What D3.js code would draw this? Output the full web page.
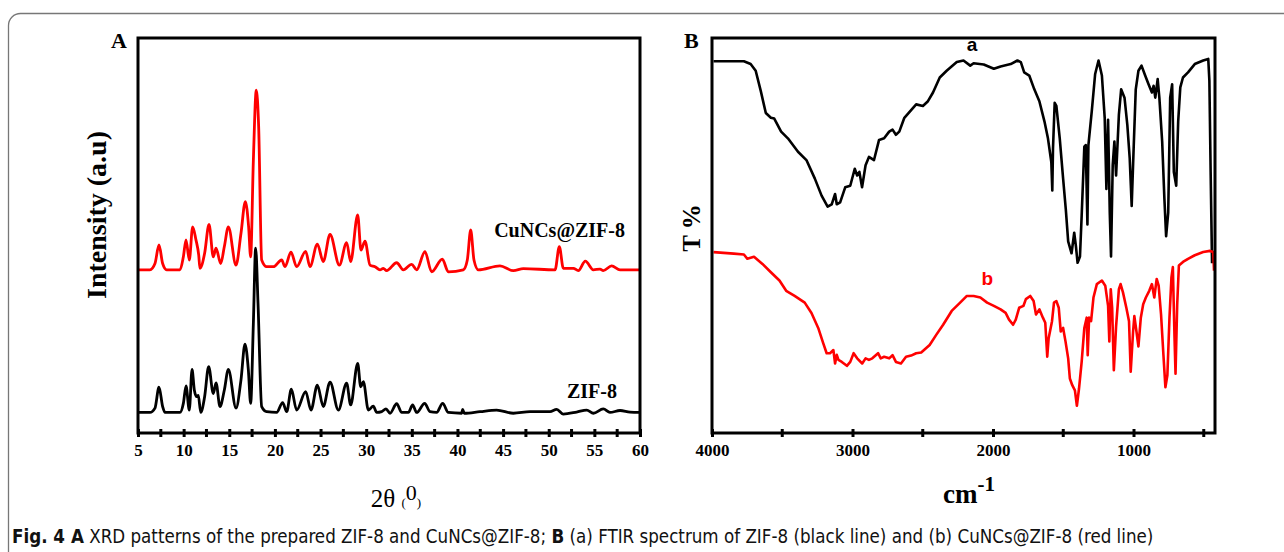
<!DOCTYPE html>
<meta charset="utf-8">
<style>
html, body { margin: 0; background: #fff; }
svg { display: block; }
.frame { fill: none; stroke: #777; stroke-width: 1.3px; }
.box { fill: none; stroke: #000; stroke-width: 3px; }
.axis line { stroke: #000; stroke-width: 3px; }
.serif { font-family: "Liberation Serif", "Times New Roman", serif; fill: #000; }
.sans { font-family: "Liberation Sans", Arial, sans-serif; }
.caption { font-family: "Liberation Sans Narrow", "DejaVu Sans Condensed", sans-serif; font-size: 18.6px; fill: #111; }
</style>
<body>
<svg id="chart" width="1284" height="552"></svg>
</body>
<script src="https://cdn.jsdelivr.net/npm/d3@7/dist/d3.min.js"></script>
<script>

/* panel A: XRD, stacked intensity as drawn (a.u.) */
var xrdTicks = [5, 10, 15, 20, 25, 30, 35, 40, 45, 50, 55, 60]
var xrdMinor = [7.5, 12.5, 17.5, 22.5, 27.5, 32.5, 37.5, 42.5, 47.5, 52.5, 57.5]

var zif8Theta = [5.04, 6.31, 6.86, 7.30, 7.70, 7.96, 9.60, 9.97, 10.26, 10.62, 10.92, 11.17, 11.43, 11.61, 11.87,
  12.30, 12.74, 13.25, 13.55, 13.98, 14.46, 14.90, 15.74, 16.28, 16.72, 17.09, 17.34, 17.64, 17.89, 18.15,
  18.55, 19.10, 20.19, 20.85, 21.29, 21.80, 22.38, 23.37, 23.95, 24.65, 25.30, 26.04, 26.95, 27.86, 28.30,
  29.07, 29.40, 29.69, 30.24, 30.78, 31.15, 31.70, 32.17, 32.61, 33.34, 33.89, 34.62, 35.09, 35.53, 36.41,
  36.99, 37.72, 38.38, 39.00, 40.46, 40.57, 40.75, 42.47, 44.29, 46.12, 47.95, 50.14, 50.87, 51.60, 53.06,
  54.16, 54.89, 55.98, 56.71, 57.81, 58.90, 60.0]
var zif8Int = [5.2, 5.2, 6.3, 11.6, 6.7, 5.2, 5.2, 7.5, 11.9, 5.8, 16.1, 10.9, 9.2, 9.5, 5.2,
  9.2, 16.8, 10.0, 12.7, 6.7, 10.9, 16.1, 6.3, 13.4, 22.5, 16.0, 7.5, 27.8, 46.8, 32.8,
  6.7, 5.4, 5.2, 7.7, 5.4, 11.1, 5.8, 10.5, 5.8, 12.1, 6.7, 12.9, 5.8, 12.6, 7.1,
  17.6, 11.7, 13.0, 5.8, 6.8, 5.2, 5.4, 6.1, 5.0, 7.4, 5.2, 5.2, 7.1, 5.2, 7.5,
  5.4, 5.2, 7.5, 5.2, 5.0, 6.0, 5.0, 5.4, 5.8, 5.0, 5.4, 5.4, 6.0, 4.8, 5.3,
  5.8, 5.0, 6.1, 5.2, 5.7, 5.3, 5.2]

var cuTheta = [5.04, 6.31, 6.86, 7.30, 7.70, 8.14, 9.60, 9.97, 10.26, 10.62, 10.99, 11.35, 11.65, 11.79, 12.30,
  12.78, 13.25, 13.55, 14.06, 14.46, 14.90, 15.74, 16.28, 16.76, 17.12, 17.34, 17.64, 17.96, 18.22, 18.55,
  19.10, 19.83, 20.74, 21.11, 21.76, 22.38, 23.37, 23.84, 24.65, 25.30, 26.04, 27.06, 27.86, 28.30, 29.07,
  29.43, 29.87, 30.42, 30.97, 31.51, 31.88, 32.24, 33.34, 34.07, 34.98, 35.53, 36.44, 37.17, 38.34, 39.00,
  40.64, 41.08, 41.45, 41.81, 42.29, 44.66, 46.12, 47.22, 50.69, 51.16, 51.60, 52.70, 53.24, 54.01, 54.89,
  55.62, 55.98, 56.89, 57.81, 60.0]
var cuInt = [41.3, 41.3, 42.9, 47.6, 42.9, 41.3, 41.3, 44.6, 48.9, 43.8, 52.2, 48.9, 45.1, 41.7, 45.5,
  52.8, 44.6, 46.8, 42.9, 47.2, 52.2, 42.5, 50.5, 58.6, 52.2, 44.6, 69.1, 86.8, 77.5, 43.8,
  42.1, 42.1, 43.8, 42.1, 45.8, 42.1, 46.0, 42.1, 47.8, 43.4, 50.3, 42.5, 48.2, 43.4, 55.2,
  46.3, 48.6, 42.5, 42.1, 41.3, 41.7, 41.1, 43.1, 41.3, 42.7, 41.3, 45.9, 40.8, 44.0, 40.8,
  41.3, 43.8, 51.4, 43.8, 41.3, 42.3, 41.1, 41.6, 41.3, 47.2, 41.7, 41.7, 41.1, 43.5, 41.3,
  41.5, 41.1, 42.3, 41.3, 41.3]

/* panel B: FTIR, transmittance as drawn (%) */
var ftirTicks = [4000, 3000, 2000, 1000]
var ftirMinor = [3500, 2500, 1500, 500]

var zifWn = [3989, 3773, 3725, 3689, 3653, 3617, 3581, 3557, 3508, 3460, 3388, 3328, 3268, 3220, 3177,
  3148, 3124, 3112, 3088, 3052, 3016, 2984, 2967, 2951, 2932, 2907, 2883, 2847, 2811, 2775,
  2739, 2715, 2691, 2667, 2631, 2547, 2499, 2463, 2427, 2379, 2330, 2258, 2210, 2162, 2138,
  2066, 1994, 1946, 1874, 1826, 1802, 1778, 1742, 1706, 1670, 1634, 1609, 1585, 1578, 1573,
  1561, 1549, 1525, 1501, 1482, 1465, 1441, 1422, 1410, 1398, 1381, 1369, 1350, 1340, 1328,
  1321, 1297, 1273, 1249, 1225, 1205, 1193, 1181, 1169, 1160, 1148, 1136, 1124, 1104, 1088,
  1064, 1044, 1027, 1013, 999, 984, 965, 943, 917, 893, 869, 857, 845, 828, 816,
  796, 780, 768, 753, 739, 725, 713, 696, 682, 667, 648, 612, 564, 504, 468,
  460, 451, 441]
var zifT = [94.1, 94.1, 93.4, 91.7, 86.6, 81.0, 79.8, 79.6, 76.3, 74.6, 71.2, 69.1, 64.4, 60.1, 57.3,
  57.9, 60.5, 57.9, 58.4, 62.2, 62.6, 66.9, 65.2, 66.1, 62.2, 67.8, 69.9, 69.1, 74.2, 74.6,
  76.3, 76.8, 75.5, 76.3, 79.8, 83.2, 82.8, 84.0, 86.2, 90.0, 91.7, 93.9, 94.3, 93.0, 93.6,
  93.3, 92.2, 92.8, 93.4, 94.3, 93.9, 91.3, 90.5, 87.0, 84.0, 78.9, 74.6, 68.6, 61.4, 72.1,
  83.6, 82.8, 74.6, 64.4, 56.7, 48.5, 45.5, 50.7, 47.3, 43.1, 44.7, 55.0, 72.5, 72.9, 52.8,
  72.9, 81.5, 90.9, 94.3, 90.5, 79.8, 61.8, 79.3, 55.8, 44.7, 67.8, 73.8, 65.2, 80.6, 87.0,
  84.9, 78.0, 69.5, 57.5, 72.1, 87.0, 91.7, 93.0, 90.5, 88.3, 86.2, 87.9, 84.9, 89.6, 84.9,
  73.8, 59.2, 49.8, 55.8, 84.9, 88.3, 66.1, 62.6, 78.9, 87.5, 90.0, 91.3, 93.4, 94.3, 94.7,
  89.2, 66.1, 43.0]

var cuWn = [3989, 3845, 3773, 3749, 3701, 3641, 3581, 3520, 3472, 3412, 3340, 3292, 3244, 3208, 3184,
  3160, 3136, 3124, 3112, 3100, 3076, 3040, 3016, 2992, 2967, 2931, 2907, 2883, 2859, 2818,
  2799, 2775, 2739, 2715, 2691, 2655, 2619, 2583, 2547, 2511, 2451, 2403, 2355, 2294, 2234,
  2186, 2138, 2090, 2042, 1994, 1946, 1910, 1886, 1857, 1838, 1814, 1783, 1766, 1735, 1711,
  1694, 1670, 1645, 1628, 1614, 1604, 1580, 1566, 1549, 1532, 1518, 1501, 1484, 1465, 1453,
  1436, 1417, 1403, 1388, 1369, 1350, 1333, 1326, 1316, 1302, 1285, 1261, 1225, 1201, 1181,
  1172, 1162, 1152, 1140, 1124, 1104, 1092, 1075, 1051, 1032, 1020, 1003, 994, 979, 965,
  948, 931, 912, 888, 869, 852, 835, 821, 804, 787, 773, 759, 744, 730, 720,
  708, 701, 689, 677, 648, 612, 564, 504, 456, 432, 427]
var cuT = [45.8, 45.4, 45.2, 44.1, 44.6, 42.8, 40.7, 38.6, 36.0, 34.7, 33.0, 30.4, 26.6, 22.7, 20.2,
  20.2, 21.0, 17.6, 19.8, 18.5, 18.0, 17.0, 18.0, 20.2, 18.9, 17.6, 18.9, 18.5, 18.9, 20.2,
  18.9, 19.3, 18.9, 19.7, 18.0, 17.6, 19.3, 19.6, 20.2, 20.4, 22.3, 24.9, 27.4, 30.9, 33.0,
  34.7, 34.7, 34.3, 33.0, 32.2, 31.3, 30.4, 28.7, 27.4, 28.7, 31.7, 32.2, 33.9, 34.7, 33.4,
  30.0, 31.3, 29.2, 27.9, 19.3, 24.0, 28.3, 33.0, 33.4, 31.7, 25.7, 26.6, 23.2, 18.9, 13.8,
  12.1, 10.8, 6.9, 11.2, 18.0, 26.6, 29.2, 19.7, 29.2, 28.3, 34.3, 37.7, 38.6, 37.3, 32.2,
  23.2, 36.4, 31.7, 15.9, 27.0, 36.4, 37.7, 35.6, 31.7, 28.3, 15.5, 25.7, 29.6, 25.7, 21.9,
  29.2, 32.6, 34.3, 36.0, 37.7, 34.3, 39.0, 37.3, 30.0, 19.7, 11.6, 14.6, 29.2, 39.4, 42.0,
  24.0, 15.0, 32.6, 42.4, 43.3, 44.1, 45.0, 45.8, 46.1, 45.8, 41.1]

var svg = d3.select("#chart")

// outer figure frame, runs off the right and bottom edge
svg.append("rect").attr("class", "frame")
  .attr("x", 8.5).attr("y", 13.5).attr("width", 1320).attr("height", 600).attr("rx", 12)

var plotTop = 38, plotBottom = 433

function panel(opts) {
  var x = d3.scaleLinear().domain(opts.xDomain).range([opts.left, opts.right])
  var y = d3.scaleLinear().domain([0, 100]).range([plotBottom, plotTop])

  var g = svg.append("g")

  opts.series.forEach(function(s) {
    g.append("path")
      .datum(d3.zip(s.x, s.y))
      .attr("fill", "none")
      .attr("stroke", s.color)
      .attr("stroke-width", s.width)
      .attr("stroke-linejoin", "round")
      .attr("d", d3.line().curve(opts.curve)
        .x(function(d) { return x(d[0]) }).y(function(d) { return y(d[1]) }))
  })

  g.append("rect").attr("class", "box")
    .attr("x", opts.left).attr("y", plotTop)
    .attr("width", opts.right - opts.left).attr("height", plotBottom - plotTop)

  var ax = g.append("g").attr("class", "axis")
    .attr("transform", "translate(0," + plotBottom + ")")
    .call(d3.axisBottom(x).tickValues(opts.ticks).tickSize(4).tickPadding(7).tickFormat(d3.format("d")))
  ax.select(".domain").remove()
  ax.selectAll(".tick line").attr("y1", -4)
  ax.selectAll(".tick text")
    .attr("font-family", "'Liberation Serif', 'Times New Roman', serif")
    .attr("font-weight", "bold").attr("font-size", 17).attr("fill", "#000")

  g.append("g").attr("class", "axis")
    .attr("transform", "translate(0," + plotBottom + ")")
    .selectAll("line").data(opts.minor).enter().append("line")
      .attr("x1", x).attr("x2", x).attr("y1", -4).attr("y2", 4)

  return { x: x, y: y }
}

var A = panel({
  left: 138, right: 640, xDomain: [5, 60], curve: d3.curveMonotoneX,
  ticks: xrdTicks, minor: xrdMinor,
  series: [
    { x: zif8Theta, y: zif8Int, color: "#000", width: 2.8 },
    { x: cuTheta, y: cuInt, color: "#ff0000", width: 2.8 }
  ]
})

var B = panel({
  left: 712, right: 1215, xDomain: [4000, 420], curve: d3.curveLinear,
  ticks: ftirTicks, minor: ftirMinor,
  series: [
    { x: zifWn, y: zifT, color: "#000", width: 2.6 },
    { x: cuWn, y: cuT, color: "#ff0000", width: 2.6 }
  ]
})

// panel letters
svg.append("text").attr("class", "serif").attr("x", 111).attr("y", 48)
  .attr("font-size", 22).attr("font-weight", "bold").text("A")
svg.append("text").attr("class", "serif").attr("x", 684).attr("y", 48)
  .attr("font-size", 22).attr("font-weight", "bold").text("B")

// axis titles
svg.append("text").attr("class", "serif")
  .attr("transform", "translate(106,215) rotate(-90)")
  .attr("text-anchor", "middle").attr("font-size", 28).attr("font-weight", "bold")
  .text("Intensity (a.u)")

svg.append("text").attr("class", "serif")
  .attr("transform", "translate(700,228) rotate(-90)")
  .attr("text-anchor", "middle").attr("font-size", 25).attr("font-weight", "bold")
  .text("T %")

var t2 = svg.append("text").attr("class", "serif").attr("x", 396).attr("y", 507)
  .attr("text-anchor", "middle").attr("font-size", 25)
t2.append("tspan").text("2θ ")
t2.append("tspan").attr("font-size", 13).text("(")
t2.append("tspan").attr("font-size", 22).attr("dy", -7).text("0")
t2.append("tspan").attr("font-size", 13).attr("dy", 7).text(")")

var cm = svg.append("text").attr("class", "serif").attr("x", 969).attr("y", 503)
  .attr("text-anchor", "middle").attr("font-size", 27).attr("font-weight", "bold")
cm.append("tspan").text("cm")
cm.append("tspan").attr("font-size", 21).attr("dy", -12).text("-1")

// series labels
svg.append("text").attr("class", "serif").attr("x", 625).attr("y", 237)
  .attr("text-anchor", "end").attr("font-size", 20).attr("font-weight", "bold").text("CuNCs@ZIF-8")
svg.append("text").attr("class", "serif").attr("x", 617).attr("y", 398)
  .attr("text-anchor", "end").attr("font-size", 20).attr("font-weight", "bold").text("ZIF-8")

svg.append("text").attr("class", "sans").attr("x", B.x(2150)).attr("y", 51)
  .attr("text-anchor", "middle").attr("font-size", 19).attr("font-weight", "bold").attr("fill", "#000").text("a")
svg.append("text").attr("class", "sans").attr("x", B.x(2040)).attr("y", 285)
  .attr("text-anchor", "middle").attr("font-size", 19).attr("font-weight", "bold").attr("fill", "#ff0000").text("b")

// caption
var cap = svg.append("text").attr("class", "caption").attr("x", 12).attr("y", 543)
cap.append("tspan").attr("font-weight", "bold").text("Fig. 4")
cap.append("tspan").attr("font-weight", "bold").attr("dx", 6).text("A")
cap.append("tspan").text(" XRD patterns of the prepared ZIF-8 and CuNCs@ZIF-8; ")
cap.append("tspan").attr("font-weight", "bold").text("B")
cap.append("tspan").text(" (a) FTIR spectrum of ZIF-8 (black line) and (b) CuNCs@ZIF-8 (red line)")

</script>
